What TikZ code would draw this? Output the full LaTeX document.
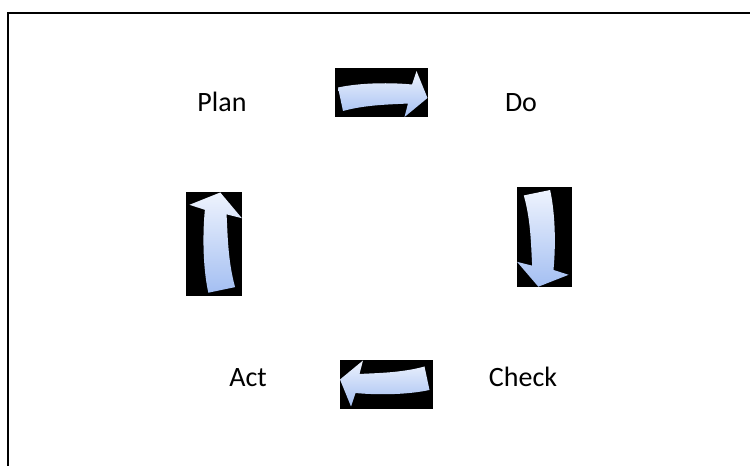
\documentclass[tikz,border=0pt]{standalone}
\usepackage{fontspec}
\setmainfont{Carlito}
\usepackage{tikz}
\usetikzlibrary{positioning}
\definecolor{pdcaLight}{RGB}{238,243,253}
\definecolor{pdcaBlue}{RGB}{164,191,242}

\tikzset{
    cyclearrow/.pic={
        \fill[black] (-46.5,-24.5) rectangle (46.5,24.5);
        \shade[top color=pdcaLight, bottom color=pdcaBlue]
            (-43.5,5) .. controls (-20,10) and (10,10) .. (30.5,8)
            -- (35,21.5) -- (46,-5.5) -- (23,-24.5) -- (26.5,-11)
            .. controls (10,-12) and (-15,-12) .. (-38.5,-18.5) -- cycle;
    }
}

\begin{document}
\begin{tikzpicture}[
        x=1pt, y=1pt,
        step label/.style={anchor=base, inner sep=0pt, font=\fontsize{28}{32}\selectfont}
    ]
    \useasboundingbox (0,0) rectangle (750,466);
    \fill[white] (0,0) rectangle (750,466);
    % frame
    \draw[line width=2pt] (8,0) -- (8,453) -- (750,453);

    \node[step label] (plan)  at (222,354) {Plan};
    \node[step label] (do)    at (521,354) {Do};
    \node[step label] (check) at (523,79)  {Check};
    \node[step label] (act)   at (248,79)  {Act};

    \pic at (381.5,373.5) {cyclearrow};
    \pic[rotate=-90, xscale=1.08, yscale=1.12] at (544.5,229) {cyclearrow};
    \pic[rotate=180] at (386,81) {cyclearrow};
    \pic[rotate=90, xscale=1.12, yscale=1.14] at (214,222) {cyclearrow};
\end{tikzpicture}
\end{document}
